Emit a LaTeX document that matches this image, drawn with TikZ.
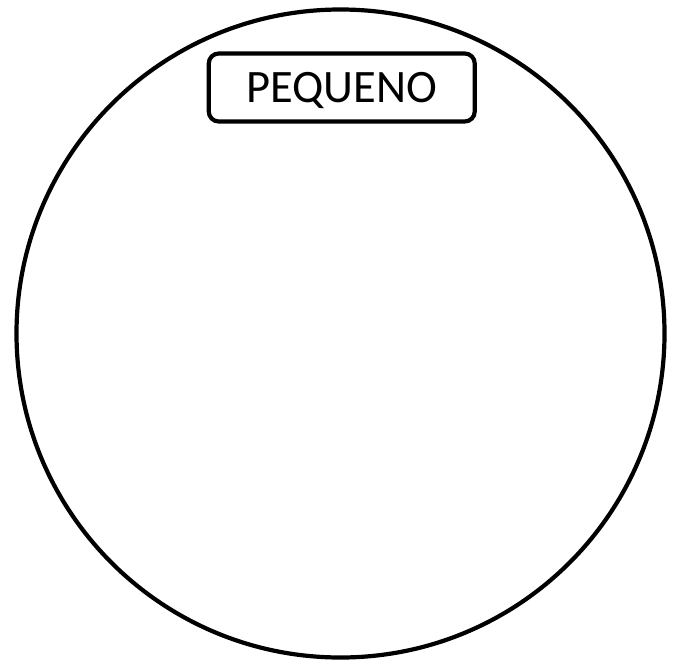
\documentclass[tikz,border=0pt]{standalone}
\usepackage{fontspec}
\setmainfont{Carlito}
\tikzset{
  outer/.style={draw=black, line width=4.2pt},
  labelbox/.style={draw=black, line width=4.2pt, rounded corners=10pt, minimum width=266pt, minimum height=68pt, inner sep=0pt, text height=30pt, text depth=0pt, font=\fontsize{46.5}{50}\selectfont}
}
\begin{document}
\begin{tikzpicture}[x=1pt,y=-1pt]
\useasboundingbox (0,0) rectangle (677,664);
\node[outer, circle, minimum size=648pt, inner sep=0pt] (disc) at (340.5,333.5) {};
\node[labelbox] (lbl) at (341.75,87.5) {PEQUENO};
\end{tikzpicture}
\end{document}
